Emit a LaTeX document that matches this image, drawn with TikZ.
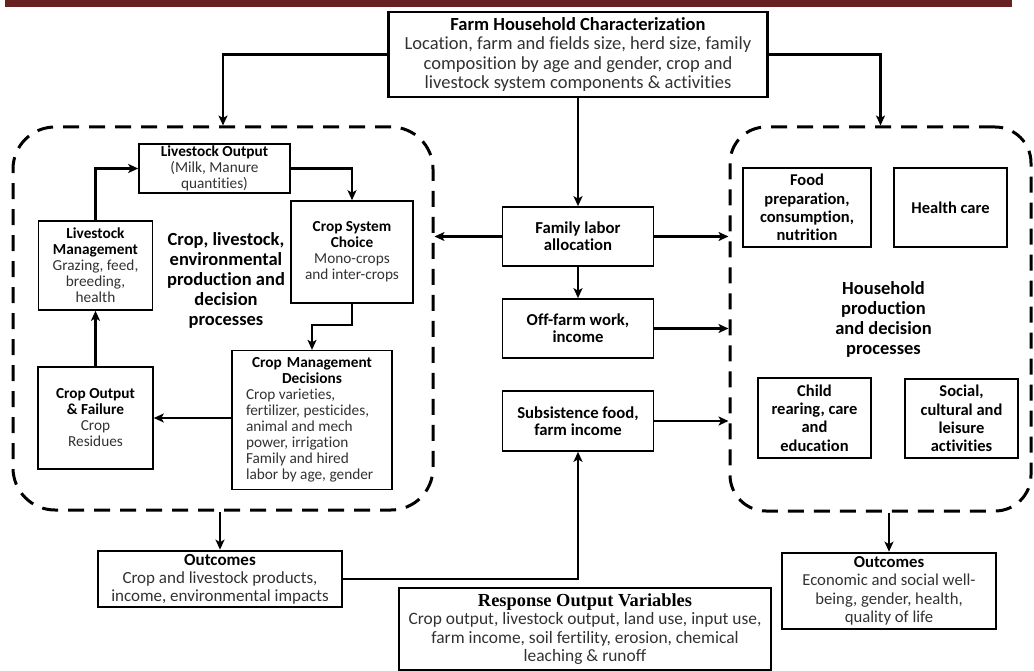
\documentclass[tikz,border=0pt]{standalone}
\usepackage{fontspec}
\setmainfont{Carlito}[Ligatures=NoCommon]
\newfontfamily\timesf{Liberation Serif}
\usetikzlibrary{arrows.meta,calc}
\definecolor{barred}{RGB}{104,33,34}
\definecolor{bodygray}{RGB}{50,50,50}
\newcommand{\bt}[1]{\textcolor{black}{\bfseries #1}}
\begin{document}
\begin{tikzpicture}[x=1pt,y=-1pt,
  conn/.style={line width=2.8pt,-{Stealth[length=10pt,width=9pt,inset=2.5pt]}},
  sbox/.style={draw,line width=1.6pt,align=center,inner sep=2pt,text=bodygray,
    font=\fontsize{15.3}{16}\selectfont},
  mbox/.style={draw,line width=1.7pt,align=center,inner sep=2pt,text=black,
    font=\bfseries\fontsize{16.7}{17}\selectfont},
  hbox/.style={draw,line width=1.7pt,align=center,inner sep=2pt,text=black,
    font=\bfseries\fontsize{16.5}{18.3}\selectfont},
  bbox/.style={draw,line width=2.6pt,align=center,inner sep=2pt,text=bodygray},
  zone/.style={draw,line width=3pt,dash pattern=on 16pt off 10pt,rounded corners=42pt},
  ctext/.style={align=center,text=black,font=\bfseries\fontsize{18.5}{20}\selectfont}]
\useasboundingbox (0,0) rectangle (1034,671);
\fill[barred] (5,0) rectangle (1012,7);

% zones
\node[zone,minimum width=420pt,minimum height=383pt] (lz) at (223,318.5) {};
\node[zone,rounded corners=36pt,minimum width=301pt,minimum height=384pt] (rz) at (880.5,319) {};

% top box
\node[bbox,line width=2.3pt,minimum width=379pt,minimum height=85pt,
  font=\fontsize{18.5}{19.5}\selectfont] (top) at (578,54.5)
  {\bt{Farm Household Characterization}\\Location, farm and fields size, herd size, family\\composition by age and gender, crop and\\livestock system components \& activities};

% left zone boxes
\node[sbox,minimum width=151pt,minimum height=49pt] (lo) at (214.5,168.5)
  {\bt{Livestock Output}\\(Milk, Manure\\quantities)};
\node[sbox,minimum width=122pt,minimum height=102pt] (csc) at (352,252)
  {\bt{Crop System}\\\bt{Choice}\\Mono-crops\\and inter-crops};
\node[sbox,minimum width=114pt,minimum height=89pt] (lm) at (95.5,265.5)
  {\bt{Livestock}\\\bt{Management}\\Grazing, feed,\\breeding,\\health};
\node[sbox,minimum width=115pt,minimum height=102pt] (cof) at (95.5,418)
  {\bt{Crop Output}\\\bt{\& Failure}\\Crop\\Residues};
\node[sbox,minimum width=160pt,minimum height=136pt,text width=146pt,align=left,inner sep=7pt] (cmd) at (312,420)
  {{\centering\bt{Crop Management}\\\bt{Decisions}\par}\leftskip=7pt\rightskip=0pt plus 1fil\spaceskip=0.23em\relax
   Crop varieties,\\fertilizer, pesticides,\\animal and mech\\power, irrigation\\Family and hired\\labor by age, gender\par};
\node[ctext] (lzt) at (226,280) {Crop, livestock,\\environmental\\production and\\decision\\processes};

% middle column
\node[mbox,minimum width=151pt,minimum height=59pt] (fla) at (578,236.5) {Family labor\\allocation};
\node[mbox,minimum width=151pt,minimum height=59pt] (ofw) at (578,328.5) {Off-farm work,\\income};
\node[mbox,minimum width=151pt,minimum height=60pt] (sf) at (578,421) {Subsistence food,\\farm income};

% right zone boxes
\node[hbox,minimum width=128pt,minimum height=79pt] (fp) at (807,207.5) {Food\\preparation,\\consumption,\\nutrition};
\node[hbox,minimum width=113pt,minimum height=79pt] (hc) at (950.5,207.5) {Health care};
\node[hbox,minimum width=113pt,minimum height=80pt] (cr) at (814.5,418) {Child\\rearing, care\\and\\education};
\node[hbox,minimum width=113pt,minimum height=79pt] (sc) at (961.5,418.5) {Social,\\cultural and\\leisure\\activities};
\node[ctext] (rzt) at (883.5,319) {Household\\production\\and decision\\processes};

% bottom boxes
\node[bbox,line width=2.7pt,minimum width=244pt,minimum height=56pt,
  font=\fontsize{17}{18}\selectfont] (outl) at (220,579)
  {\bt{Outcomes}\\Crop and livestock products,\\income, environmental impacts};
\node[bbox,line width=2.7pt,minimum width=214pt,minimum height=76pt,
  font=\fontsize{16.7}{18.5}\selectfont] (outr) at (889,591)
  {\bt{Outcomes}\\Economic and social well-\\being, gender, health,\\quality of life};
\node[bbox,minimum width=372pt,minimum height=82pt,
  font=\fontsize{17.4}{18.5}\selectfont] (resp) at (585,629)
  {\textcolor{black}{\timesf\bfseries\fontsize{18.4}{19}\selectfont Response Output Variables}\\Crop output, livestock output, land use, input use,\\farm income, soil fertility, erosion, chemical\\leaching \& runoff};

% connectors
\draw[conn] (top.west) -| (lz.north);
\draw[conn] (top.east) -| (rz.north);
\draw[conn] (top.south) -- (fla.north);
\draw[conn] (fla.west) -- (fla.west -| lz.east);
\draw[conn] (fla.east) -- (fla.east -| rz.west);
\draw[conn] (fla.south) -- (ofw.north);
\draw[conn] (ofw.east) -- (ofw.east -| rz.west);
\draw[conn] (sf.east) -- (sf.east -| rz.west);
\draw[conn] (outl.east) -| (sf.south);
\draw[conn] (lz.south -| outl.north) -- (outl.north);
\draw[conn] (rz.south -| outr.north) -- (outr.north);
\draw[conn] (lm.north) |- (lo.west);
\draw[conn] (lo.east) -| (csc.north);
\draw[conn] (csc.south) -- (csc.south |- 0,325) -| (cmd.north);
\draw[conn] (cmd.west |- cof.east) -- (cof.east);
\draw[conn] (cof.north) -- (lm.south);
\end{tikzpicture}
\end{document}
